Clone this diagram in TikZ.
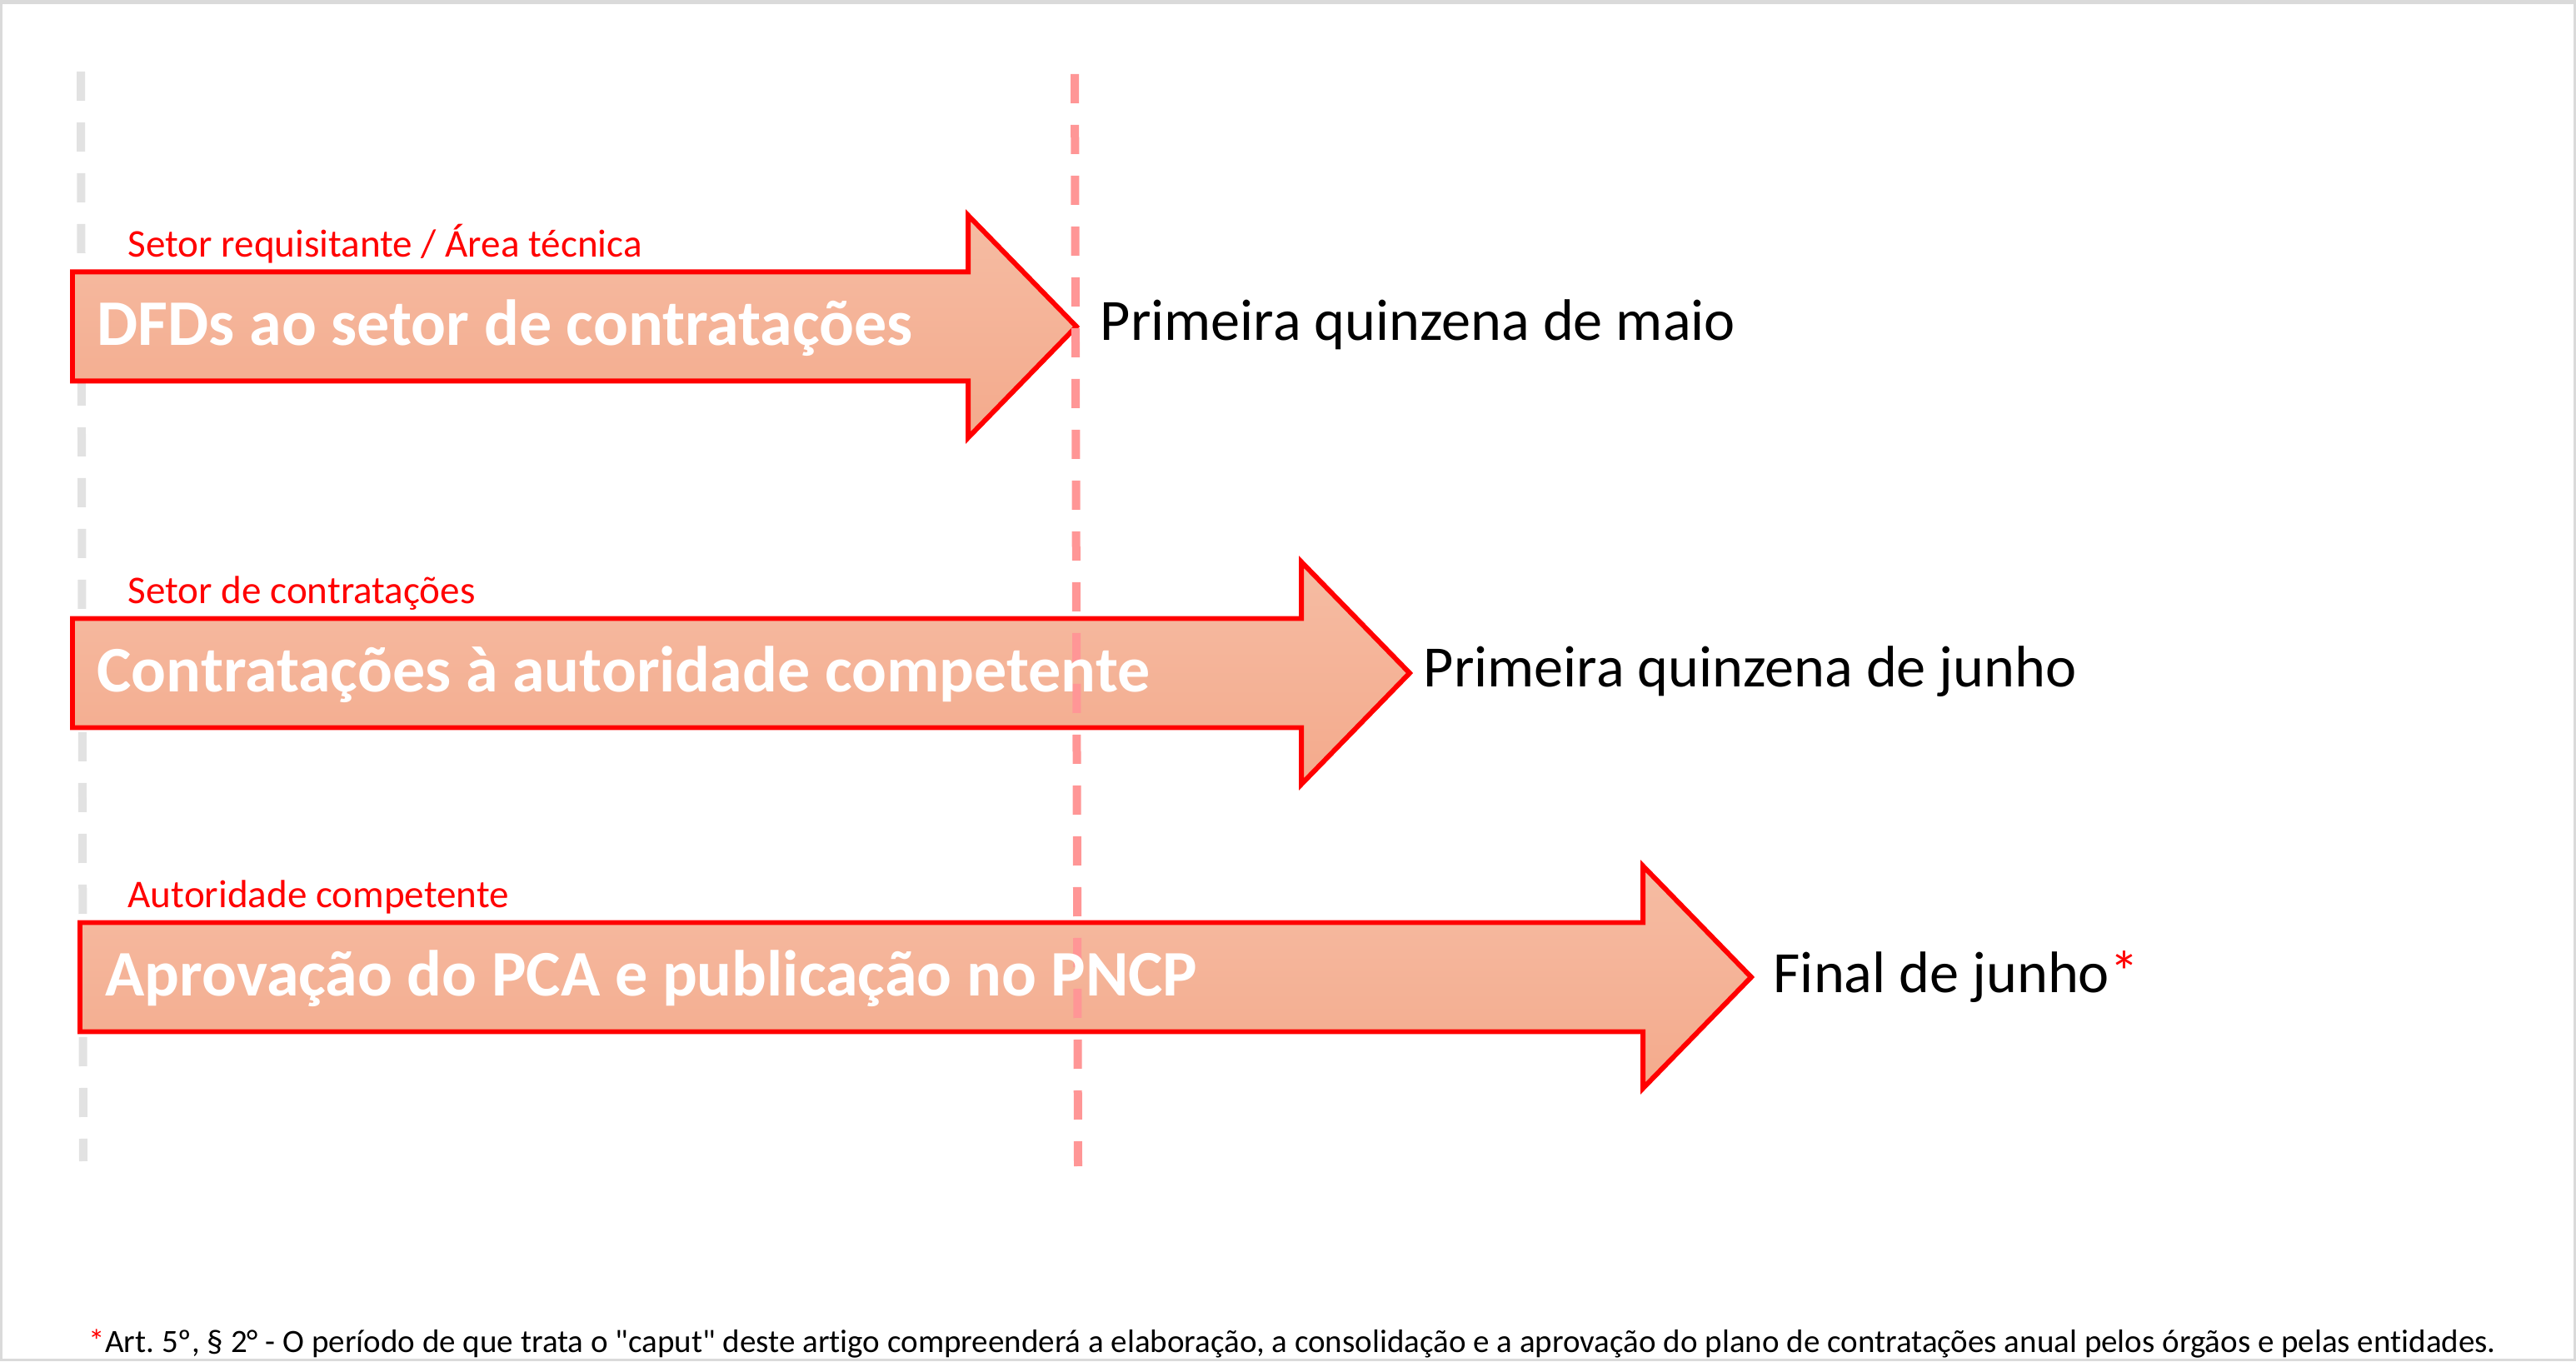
\documentclass[tikz,border=0pt]{standalone}
\usepackage{fontspec}
\setmainfont{Carlito}[Ligatures={TeX,NoCommon}]
\usepackage{tikz}
\usetikzlibrary{positioning,calc}
\frenchspacing

\definecolor{salmontop}{RGB}{245,188,163}
\definecolor{salmonbot}{RGB}{244,170,140}
\definecolor{guidegray}{RGB}{226,226,226}
\definecolor{guidepink}{RGB}{255,150,150}
\definecolor{framegray}{RGB}{218,218,218}

\tikzset{
  stagearrow/.style={draw=red, line width=1.7pt, top color=salmontop, bottom color=salmonbot},
  stagetext/.style={anchor=base west, inner sep=0pt, text=white, font=\fontsize{22.2}{25}\selectfont\bfseries},
  owner/.style={anchor=base west, inner sep=0pt, text=red, font=\fontsize{13.4}{15}\selectfont},
  deadline/.style={anchor=base west, inner sep=0pt, font=\fontsize{20}{23}\selectfont},
  guide/.style={line width=0.1cm, dash pattern=on 0.35cm off 0.26cm},
}

\begin{document}
\begin{tikzpicture}
    \useasboundingbox (0,0) rectangle (30.92,16.34);

    % Frame
    \draw[framegray, line width=0.03cm] (0.015,0.015) rectangle (30.905,16.325);
    \draw[framegray, line width=0.04cm] (0,16.31) -- (30.92,16.31);

    % Start guide
    \draw[guide, guidegray] (0.97,15.48) -- (1.00,2.40);

    % Stage arrows (left end / end of shaft / centre line)
    \foreach \l/\s/\c in {0.87/11.62/12.42, 0.87/15.62/8.26, 0.96/19.72/4.61} {
        \draw[stagearrow] (\l,{\c+0.655}) -- (\s,{\c+0.655}) -- (\s,{\c+1.335})
            -- ({\s+1.30},\c) -- (\s,{\c-1.335}) -- (\s,{\c-0.655}) -- (\l,{\c-0.655}) -- cycle;
    }
    \coordinate (tip1) at (12.92,12.42);
    \coordinate (tip2) at (16.92,8.26);
    \coordinate (tip3) at (21.02,4.61);

    % Deadline guide
    \draw[guide, guidepink] (12.90,15.45) -- (12.94,2.34);

    % Who does it
    \node[owner] (own1) at (1.53,13.255) {Setor requisitante / Área técnica};
    \node[owner] (own2) at (1.53,9.095) {Setor de contratações};
    \node[owner] (own3) at (1.53,5.445) {Autoridade competente};

    % What is done
    \node[stagetext] (dfd) at (1.16,12.19) {DFDs ao setor de contratações};
    \node[stagetext] (aut) at (1.16,8.03) {Contratações à autoridade competente};
    \node[stagetext] (pca) at (1.26,4.38) {Aprovação do PCA e publicação no PNCP};

    % When
    \node[deadline] (maio) at ($(tip1)+(0.28,-0.17)$) {Primeira quinzena de maio};
    \node[deadline] (junho) at ($(tip2)+(0.16,-0.17)$) {Primeira quinzena de junho};
    \node[deadline] (final) at ($(tip3)+(0.26,-0.19)$) {Final de junho\textcolor{red}{*}};

    % Footnote
    \node[anchor=base west, inner sep=0pt, font=\fontsize{11.1}{13}\selectfont] (nota) at (1.06,0.11)
        {\textcolor{red}{*}Art. 5º, § 2° - O período de que trata o \textquotedbl caput\textquotedbl{} deste artigo compreenderá a elaboração, a consolidação e a aprovação do plano de contratações anual pelos órgãos e pelas entidades.};
\end{tikzpicture}
\end{document}
